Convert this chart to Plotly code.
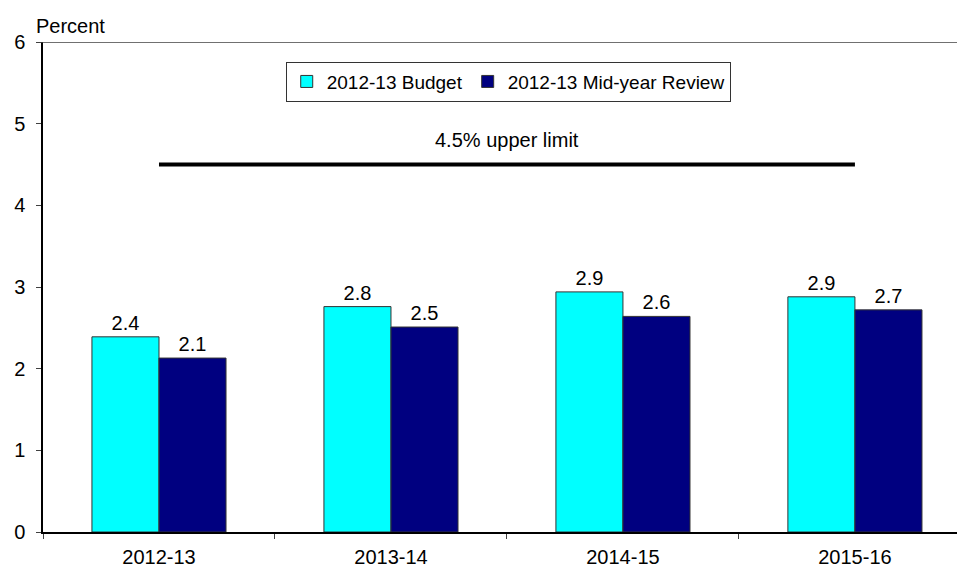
import plotly.graph_objects as go

categories = ["2012-13", "2013-14", "2014-15", "2015-16"]
budget = [2.39, 2.76, 2.94, 2.88]
midyear = [2.13, 2.51, 2.64, 2.72]
upper_limit = 4.5
y_ticks = [0, 1, 2, 3, 4, 5, 6]

FONT = "Liberation Sans, Arial, sans-serif"

fig = go.Figure()
fig.add_trace(go.Bar(
    x=categories, y=budget, name="2012-13 Budget",
    marker=dict(color="#00FFFF", line=dict(color="#333333", width=1)),
    texttemplate="%{y:.1f}", textposition="outside",
    textfont=dict(size=20, color="#000000", family=FONT), cliponaxis=False,
))
fig.add_trace(go.Bar(
    x=categories, y=midyear, name="2012-13 Mid-year Review",
    marker=dict(color="#000080", line=dict(color="#333333", width=1)),
    texttemplate="%{y:.1f}", textposition="outside",
    textfont=dict(size=20, color="#000000", family=FONT), cliponaxis=False,
))
fig.add_trace(go.Scatter(
    x=[categories[0], categories[-1]], y=[upper_limit, upper_limit],
    mode="lines", line=dict(color="#000000", width=4), showlegend=False,
    hoverinfo="skip",
))
fig.add_annotation(x=1.5, y=upper_limit, yshift=25, text="4.5% upper limit",
                   showarrow=False, font=dict(size=20, color="#000000", family=FONT))
fig.add_annotation(x=0, xref="paper", xanchor="left", xshift=-9, y=1, yref="paper",
                   yanchor="bottom", yshift=3, text="Percent", showarrow=False,
                   font=dict(size=20, color="#000000", family=FONT))
fig.add_shape(type="line", xref="paper", yref="y", x0=-0.005, x1=1, y0=6, y1=6,
              line=dict(color="#404040", width=1.5))

fig.update_layout(
    width=957, height=567,
    margin=dict(l=43, r=0, t=42, b=35),
    paper_bgcolor="white", plot_bgcolor="white",
    barmode="group", bargap=0.422, bargroupgap=0,
    font=dict(family=FONT, size=20, color="#000000"),
    showlegend=True,
    legend=dict(orientation="h", x=0.509, xanchor="center", y=0.96, yanchor="top",
                bordercolor="#333333", borderwidth=1, bgcolor="white",
                font=dict(size=19, family=FONT), itemwidth=30,
                tracegroupgap=0),
    xaxis=dict(range=[-0.5, 3.44], showline=True, linecolor="#000000", linewidth=1.5,
               ticks="outside", tickson="boundaries", ticklen=5, tickcolor="#404040",
               showgrid=False, tickfont=dict(size=20), ticklabelstandoff=6),
    yaxis=dict(range=[0, 6], tickvals=y_ticks, showline=True, linecolor="#000000",
               linewidth=1.5, ticks="outside", ticklen=5, tickcolor="#404040",
               showgrid=False, zeroline=False, tickfont=dict(size=20),
               ticklabelstandoff=7),
)

fig.write_html("out.html")
